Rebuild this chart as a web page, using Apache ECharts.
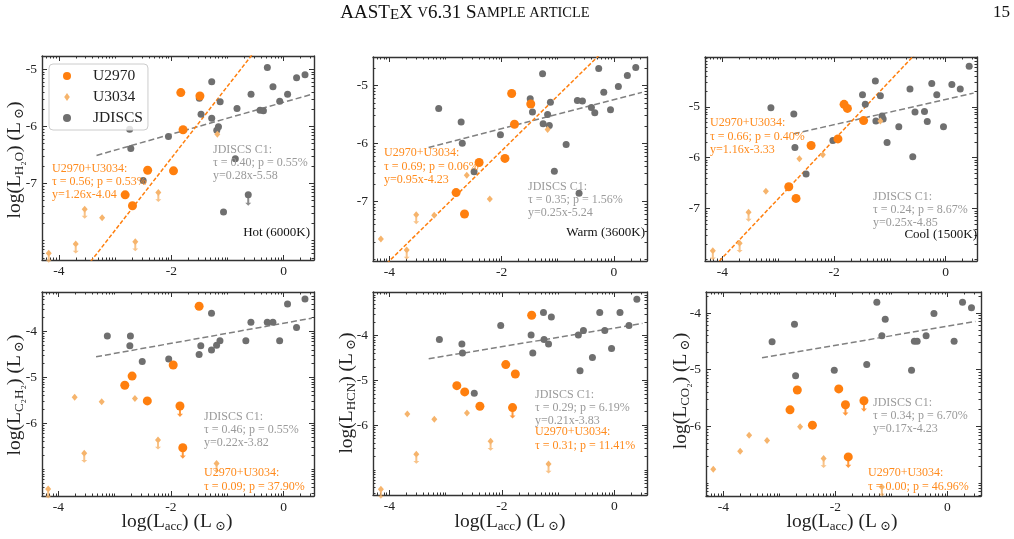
<!DOCTYPE html>
<html>
<head>
<meta charset="utf-8">
<script src="https://cdn.jsdelivr.net/npm/echarts@6/dist/echarts.min.js"></script>
<style>
  html, body { margin: 0; padding: 0; background: #fff; }
  #main { width: 1014px; height: 539px; }
</style>
</head>
<body>
<div id="main"></div>
<script>
// points are [log Lacc, log Lline] ; a third value 1 marks an upper limit
// --- H2O hot (6000K)
var u2970_hot = [[-1.83,-5.41],[-1.49,-5.47],[-1.79,-6.06],[-2.42,-6.77],[-1.96,-6.78],[-2.82,-7.20],[-2.69,-7.39]];
var u3034_hot = [[-1.18,-6.14],[-2.23,-7.16,1],[-3.54,-7.45,1],[-3.23,-7.60],[-3.70,-8.06,1],[-2.64,-8.02,1],[-4.18,-8.22,1]];
var jdiscs_hot = [[-0.29,-4.97],[-1.28,-5.22],[0.23,-5.15],[0.38,-5.10],[-0.19,-5.31],[-0.58,-5.44],[0.07,-5.44],[-1.50,-5.51],
  [-1.13,-5.57],[-0.07,-5.56],[-0.83,-5.69],[-0.42,-5.72],[-0.36,-5.73],[-1.47,-5.79],[-1.28,-5.86],[-1.16,-6.01],[-1.19,-6.07],
  [-2.74,-6.05],[-2.05,-6.18],[-2.72,-6.39],[-0.86,-6.57],[-2.50,-6.95],[-0.63,-7.20,1],[-1.07,-7.50]];
// --- H2O warm (3600K)
var u2970_warm = [[-1.82,-5.14],[-1.48,-5.32],[-1.77,-5.67],[-2.40,-6.33],[-1.94,-6.26],[-2.81,-6.85],[-2.66,-7.22]];
var u3034_warm = [[-1.18,-5.76],[-2.62,-6.55],[-2.21,-6.96],[-3.20,-7.24],[-3.52,-7.23,1],[-4.15,-7.65],[-3.69,-7.84,1]];
var jdiscs_warm = [[-1.27,-4.80],[0.39,-4.69],[-0.27,-4.71],[0.24,-4.83],[0.08,-5.02],[-0.18,-5.12],[-1.49,-5.23],[-0.65,-5.26],
  [-0.56,-5.27],[-1.13,-5.29],[-3.12,-5.40],[-1.45,-5.46],[-0.40,-5.38],[-0.34,-5.47],[-0.06,-5.42],[-1.18,-5.50],[-2.72,-5.63],
  [-1.26,-5.66],[-1.15,-5.69],[-2.02,-5.85],[-2.70,-6.00],[-0.85,-6.02],[-1.06,-6.48],[-2.49,-6.49],[-0.62,-6.86]];
// --- H2O cool (1500K)
var u2970_cool = [[-1.82,-4.95],[-1.76,-5.03],[-1.47,-5.27],[-2.41,-5.76],[-1.93,-5.63],[-2.81,-6.57],[-2.68,-6.80]];
var u3034_cool = [[-1.17,-5.28],[-2.20,-5.94],[-2.62,-6.02],[-3.22,-6.66],[-3.53,-7.07,1],[-3.69,-7.68,1],[-4.17,-7.83,1]];
var jdiscs_cool = [[0.42,-4.20],[-1.26,-4.49],[-0.25,-4.54],[0.11,-4.56],[0.26,-4.65],[-0.64,-4.65],[-1.49,-4.76],[-1.17,-4.78],
  [-0.16,-4.76],[-1.44,-4.95],[-3.13,-5.02],[-2.72,-5.14],[-0.55,-5.10],[-0.38,-5.09],[-1.14,-5.18],[-1.12,-5.24],[-1.25,-5.28],
  [-0.33,-5.29],[-0.84,-5.39],[-0.04,-5.39],[-2.02,-5.66],[-1.05,-5.70],[-2.70,-5.80],[-0.59,-5.98],[-2.50,-6.32]];
// --- C2H2
var u2970_c2h2 = [[-1.50,-3.45],[-1.96,-4.73],[-2.69,-4.97],[-2.82,-5.17],[-2.42,-5.51],[-1.84,-5.62,1],[-1.79,-6.53,1]];
var u3034_c2h2 = [[-3.71,-5.43],[-3.23,-5.53],[-2.64,-5.46],[-2.23,-6.36,1],[-3.54,-6.65,1],[-1.19,-6.87,1],[-4.18,-7.43,1]];
var jdiscs_c2h2 = [[0.38,-3.29],[0.07,-3.40],[-1.28,-3.60],[-0.58,-3.80],[-0.29,-3.80],[-0.19,-3.80],[0.23,-3.91],[-3.13,-4.10],
  [-2.72,-4.10],[-2.73,-4.31],[-1.13,-4.20],[-0.67,-4.20],[-0.07,-4.20],[-1.47,-4.31],[-1.19,-4.30],[-1.28,-4.40],[-1.50,-4.50],
  [-2.04,-4.60],[-2.51,-4.65]];
// --- HCN
var u2970_hcn = [[-1.47,-3.55],[-1.93,-4.65],[-1.76,-4.86],[-2.80,-5.12],[-2.66,-5.26],[-2.39,-5.58],[-1.81,-5.61,1]];
var u3034_hcn = [[-3.68,-5.75],[-3.20,-5.87],[-2.62,-5.73],[-2.20,-6.36,1],[-3.52,-6.65,1],[-1.17,-6.87,1],[-4.15,-7.43,1]];
var jdiscs_hcn = [[0.40,-3.19],[-1.26,-3.49],[-0.26,-3.49],[0.10,-3.49],[-1.12,-3.59],[-2.02,-3.78],[0.26,-3.78],[-0.55,-3.89],
  [-0.17,-3.89],[-1.48,-3.99],[-0.64,-3.99],[-3.11,-4.09],[-1.25,-4.09],[-2.71,-4.19],[-1.17,-4.19],[-2.70,-4.39],[-1.45,-4.39],
  [-0.05,-4.29],[-0.39,-4.49],[-0.61,-4.79],[-2.49,-5.29]];
// --- CO2
var u2970_co2 = [[-1.94,-5.34],[-2.68,-5.36],[-1.49,-5.55,1],[-1.82,-5.62,1],[-2.81,-5.71],[-2.41,-5.98],[-1.77,-6.54,1]];
var u3034_co2 = [[-2.63,-6.01],[-3.54,-6.16],[-3.22,-6.25],[-3.70,-6.44],[-2.21,-6.57,1],[-4.18,-6.76],[-1.17,-7.07,1]];
var jdiscs_co2 = [[-1.26,-3.81],[0.27,-3.81],[0.43,-3.91],[-0.24,-4.01],[-1.11,-4.11],[-2.73,-4.20],[-3.13,-4.51],[-1.17,-4.40],
  [-0.38,-4.40],[-0.59,-4.50],[-0.54,-4.50],[0.12,-4.50],[-1.44,-4.91],[-2.02,-5.01],[-0.64,-5.01],[-2.71,-5.11]];

// fit line end points
var jdFit_hot = [[-3.33,-6.51],[0.50,-5.44]];
var jdFit_warm = [[-3.30,-6.07],[0.50,-5.12]];
var jdFit_cool = [[-2.72,-5.53],[0.50,-4.73]];
var jdFit_c2h2 = [[-3.33,-4.55],[0.50,-3.71]];
var jdFit_hcn = [[-3.30,-4.52],[0.50,-3.73]];
var jdFit_co2 = [[-3.31,-4.79],[0.50,-4.15]];
var uFit_hot = [[-3.50,-8.45],[-0.50,-4.67]];
var uFit_warm = [[-4.20,-8.22],[-0.20,-4.42]];
var uFit_cool = [[-4.20,-8.20],[-0.50,-3.91]];

// tick labels
var xTickLabels = [-4, -2, 0];
var yTickLabels_top = [-7, -6, -5];
var yTickLabels_bottom = [-6, -5, -4];

// statistics text
var jdText = [
  'JDISCS C1:\nτ = 0.40; p = 0.55%\ny=0.28x-5.58',
  'JDISCS C1:\nτ = 0.35; p = 1.56%\ny=0.25x-5.24',
  'JDISCS C1:\nτ = 0.24; p = 8.67%\ny=0.25x-4.85',
  'JDISCS C1:\nτ = 0.46; p = 0.55%\ny=0.22x-3.82',
  'JDISCS C1:\nτ = 0.29; p = 6.19%\ny=0.21x-3.83',
  'JDISCS C1:\nτ = 0.34; p = 6.70%\ny=0.17x-4.23'
];
var uText = [
  'U2970+U3034:\nτ = 0.56; p = 0.53%\ny=1.26x-4.04',
  'U2970+U3034:\nτ = 0.69; p = 0.06%\ny=0.95x-4.23',
  'U2970+U3034:\nτ = 0.66; p = 0.40%\ny=1.16x-3.33',
  'U2970+U3034:\nτ = 0.09; p = 37.90%',
  'U2970+U3034:\nτ = 0.31; p = 11.41%',
  'U2970+U3034:\nτ = 0.00; p = 46.96%'
];
var tempLabels = ['Hot (6000K)', 'Warm (3600K)', 'Cool (1500K)'];

var ORANGE = '#ff7f0e', LIGHT = '#f6b46c', GRAY = '#6f6f6f';
var GRAYTXT = '#9a9a9a', ORTXT = '#ff8a1c', FRAME = '#333';
var SERIF = '"Liberation Serif", "DejaVu Serif", serif';
var ARROW = 'path://M-1,0 L1,0 L1,6 L3,6 L0,10 L-3,6 L-1,6 Z';
var THIN_D = 'path://M0,-10 L7,0 L0,10 L-7,0 Z';

var panels = [
  {grid: {left: 42, top: 56, width: 272, height: 204}, x: [-4.30, 0.54], y: [-8.34, -4.77], yl: yTickLabels_top,
   u1: u2970_hot, u2: u3034_hot, jd: jdiscs_hot, jf: jdFit_hot, uf: uFit_hot},
  {grid: {left: 373, top: 57, width: 274, height: 204}, x: [-4.29, 0.59], y: [-8.03, -4.51], yl: yTickLabels_top,
   u1: u2970_warm, u2: u3034_warm, jd: jdiscs_warm, jf: jdFit_warm, uf: uFit_warm},
  {grid: {left: 705, top: 57, width: 272, height: 204}, x: [-4.31, 0.56], y: [-8.03, -4.02], yl: yTickLabels_top,
   u1: u2970_cool, u2: u3034_cool, jd: jdiscs_cool, jf: jdFit_cool, uf: uFit_cool},
  {grid: {left: 42, top: 292, width: 272, height: 204}, x: [-4.29, 0.54], y: [-7.58, -3.14], yl: yTickLabels_bottom,
   u1: u2970_c2h2, u2: u3034_c2h2, jd: jdiscs_c2h2, jf: jdFit_c2h2, uf: null},
  {grid: {left: 373, top: 292, width: 274, height: 203}, x: [-4.29, 0.58], y: [-7.56, -3.03], yl: yTickLabels_bottom,
   u1: u2970_hcn, u2: u3034_hcn, jd: jdiscs_hcn, jf: jdFit_hcn, uf: null},
  {grid: {left: 706, top: 292, width: 275, height: 204}, x: [-4.31, 0.60], y: [-7.23, -3.63], yl: yTickLabels_bottom,
   u1: u2970_co2, u2: u3034_co2, jd: jdiscs_co2, jf: jdFit_co2, uf: null}
];

// log-like minor tick positions inside each unit
function minorTicks(lo, hi, majors) {
  var out = [];
  for (var n = Math.floor(lo) - 1; n <= Math.ceil(hi); n++) {
    for (var k = 1; k <= 9; k++) {
      var v = n + Math.log10(k);
      if (v > lo && v < hi && majors.indexOf(v) < 0) out.push(v);
    }
  }
  return out;
}

function makeAxis(gi, pos, range, majors, labels, minor) {
  return {
    type: 'value', gridIndex: gi, position: pos, min: range[0], max: range[1],
    splitLine: {show: false},
    axisLine: {show: !minor, onZero: false, lineStyle: {color: FRAME, width: 1.4}},
    axisTick: {show: true, inside: true, length: minor ? 2.5 : 5,
      customValues: minor ? minorTicks(range[0], range[1], majors) : majors,
      lineStyle: {color: FRAME, width: 1}},
    axisLabel: {show: labels, customValues: majors, margin: (pos === 'bottom') ? 4 : 5,
      color: '#222', fontSize: 13.5, fontFamily: SERIF}
  };
}

var xAxes = [], yAxes = [], grids = [], series = [];
panels.forEach(function (p, gi) {
  var g = Object.assign({}, p.grid);
  g.outerBoundsMode = 'none';
  grids.push(g);
  xAxes.push(makeAxis(gi, 'bottom', p.x, xTickLabels, true, false));
  xAxes.push(makeAxis(gi, 'top', p.x, xTickLabels, false, false));
  xAxes.push(makeAxis(gi, 'bottom', p.x, xTickLabels, false, true));
  xAxes.push(makeAxis(gi, 'top', p.x, xTickLabels, false, true));
  yAxes.push(makeAxis(gi, 'left', p.y, p.yl, true, false));
  yAxes.push(makeAxis(gi, 'right', p.y, p.yl, false, false));
  yAxes.push(makeAxis(gi, 'left', p.y, p.yl, false, true));
  yAxes.push(makeAxis(gi, 'right', p.y, p.yl, false, true));
  var xi = gi * 4, yi = gi * 4;
  function xy(arr) { return arr.map(function (d) { return [d[0], d[1]]; }); }
  function ul(arr) { return arr.filter(function (d) { return d[2]; }).map(function (d) { return [d[0], d[1]]; }); }

  series.push({type: 'line', name: 'jdfit', xAxisIndex: xi, yAxisIndex: yi, data: p.jf, symbol: 'none', silent: true,
    lineStyle: {color: '#808080', width: 1.5, type: [6, 3]}, z: 1});
  if (p.uf) {
    series.push({type: 'line', name: 'ufit', xAxisIndex: xi, yAxisIndex: yi, data: p.uf, symbol: 'none', silent: true, clip: true,
      lineStyle: {color: ORANGE, width: 1.5, type: [4, 2]}, z: 1});
  }
  series.push({type: 'scatter', name: 'ul_jd', xAxisIndex: xi, yAxisIndex: yi, data: ul(p.jd), symbol: ARROW,
    symbolSize: [6, 8], symbolOffset: [0, 7], itemStyle: {color: GRAY}, silent: true, z: 2});
  series.push({type: 'scatter', name: 'ul_u1', xAxisIndex: xi, yAxisIndex: yi, data: ul(p.u1), symbol: ARROW,
    symbolSize: [6, 8], symbolOffset: [0, 7], itemStyle: {color: ORANGE}, silent: true, z: 2});
  series.push({type: 'scatter', name: 'ul_u2', xAxisIndex: xi, yAxisIndex: yi, data: ul(p.u2), symbol: ARROW,
    symbolSize: [6, 7], symbolOffset: [0, 6], itemStyle: {color: LIGHT}, silent: true, z: 2});
  series.push({type: 'scatter', name: 'JDISCS', xAxisIndex: xi, yAxisIndex: yi, data: xy(p.jd), symbol: 'circle',
    symbolSize: 7, itemStyle: {color: GRAY, opacity: 1}, z: 3});
  series.push({type: 'scatter', name: 'U3034', xAxisIndex: xi, yAxisIndex: yi, data: xy(p.u2), symbol: THIN_D,
    symbolSize: [6, 7], itemStyle: {color: LIGHT, opacity: 1}, z: 3});
  series.push({type: 'scatter', name: 'U2970', xAxisIndex: xi, yAxisIndex: yi, data: xy(p.u1), symbol: 'circle',
    symbolSize: 9, itemStyle: {color: ORANGE, opacity: 1}, z: 4});
});

// text on the page
function txt(x, y, text, color, size, align, valign, lh) {
  return {type: 'text', x: x, y: y, silent: true, z: 50,
    style: {text: text, fill: color, fontSize: size, fontFamily: SERIF,
      textAlign: align || 'left', textVerticalAlign: valign || 'top', lineHeight: lh || size}};
}
function richLabel(x, y, sub, rotate) {
  return {type: 'text', x: x, y: y, rotation: rotate ? Math.PI / 2 : 0, silent: true, z: 50,
    style: {
      text: '{n|log(L}{s|' + sub + '}{n|) (L}{s| ⊙}{n|)}',
      textAlign: 'center', textVerticalAlign: 'middle', fill: '#222',
      rich: {
        n: {fontSize: 19.5, fontFamily: SERIF, lineHeight: 23, fill: '#222'},
        s: {fontSize: 13, fontFamily: SERIF, lineHeight: 13, verticalAlign: 'bottom', fill: '#222'}
      }
    }};
}

var graphics = [];
var jdPos = [[213, 143.5], [528, 180.5], [873, 190.5], [204, 410.5], [535, 388.5], [873, 396.5]];
var uPos = [[52, 162], [384, 146.5], [710, 116.5], [204, 466.5], [535, 425.5], [868, 466.5]];
for (var i = 0; i < 6; i++) {
  graphics.push(txt(jdPos[i][0], jdPos[i][1], jdText[i], GRAYTXT, 12, 'left', 'top', 13));
  graphics.push(txt(uPos[i][0], uPos[i][1], uText[i], ORTXT, 12, 'left', 'top', 13.3));
}
graphics.push(txt(310, 233, tempLabels[0], '#111', 13, 'right', 'middle'));
graphics.push(txt(645, 233, tempLabels[1], '#111', 13, 'right', 'middle'));
graphics.push(txt(977, 235, tempLabels[2], '#111', 13, 'right', 'middle'));

graphics.push(richLabel(15, 160, 'H₂O', true));
graphics.push(richLabel(15, 395, 'C₂H₂', true));
graphics.push(richLabel(347, 393, 'HCN', true));
graphics.push(richLabel(681, 391, 'CO₂', true));
graphics.push(richLabel(177, 522, 'acc', false));
graphics.push(richLabel(510, 522, 'acc', false));
graphics.push(richLabel(842, 522, 'acc', false));

// running head
graphics.push({type: 'text', x: 465, y: 13, silent: true,
  style: {text: '{b|AAST}{e|E}{b|X }{s|V}{b|6.31 S}{s|AMPLE ARTICLE}', textAlign: 'center', textVerticalAlign: 'middle',
    rich: {
      b: {fontSize: 19, fontFamily: SERIF, fill: '#111', lineHeight: 20},
      e: {fontSize: 15, fontFamily: SERIF, fill: '#111', lineHeight: 20, verticalAlign: 'bottom'},
      s: {fontSize: 14.5, fontFamily: SERIF, fill: '#111', lineHeight: 20}
    }}});
graphics.push(txt(1010, 13, '15', '#111', 17, 'right', 'middle'));

var chart = echarts.init(document.getElementById('main'), null, {renderer: 'canvas'});
chart.setOption({
  animation: false,
  backgroundColor: '#fff',
  grid: grids,
  xAxis: xAxes,
  yAxis: yAxes,
  legend: {
    data: [{name: 'U2970', icon: 'circle'}, {name: 'U3034', icon: THIN_D}, {name: 'JDISCS', icon: 'circle'}],
    left: 49, top: 64, orient: 'vertical', itemWidth: 34, itemHeight: 8, itemGap: 5,
    padding: [4, 5, 4, 14], borderColor: '#cccccc', borderWidth: 1, borderRadius: 4,
    backgroundColor: 'rgba(255,255,255,0.8)',
    textStyle: {fontSize: 15.5, fontFamily: SERIF, color: '#222', padding: [0, 0, 0, 4]}
  },
  graphic: graphics,
  series: series
});
</script>
</body>
</html>
